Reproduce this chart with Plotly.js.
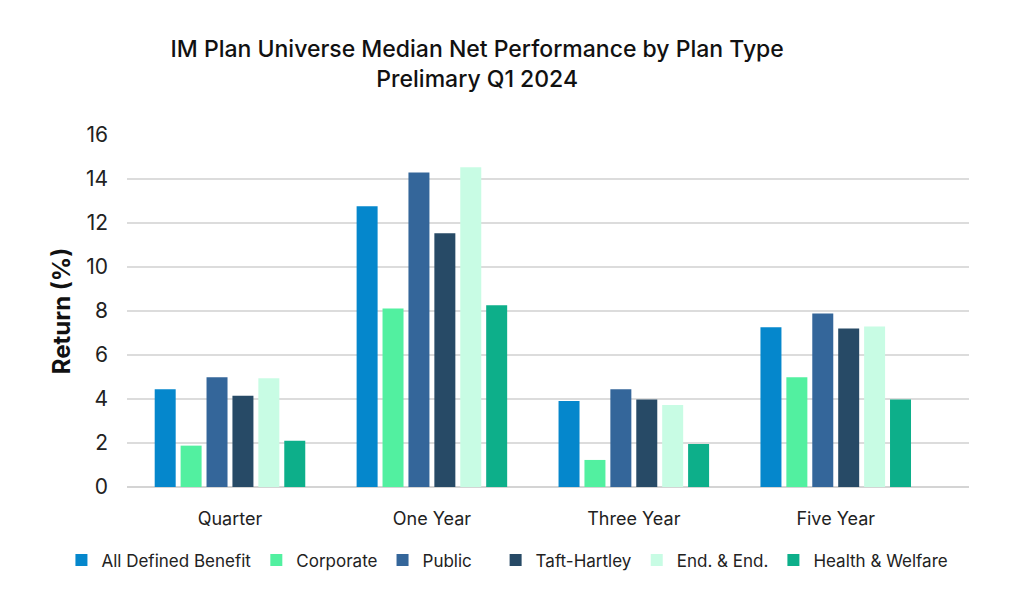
<!DOCTYPE html>
<html>
<head>
<meta charset="utf-8">
<script src="https://cdn.plot.ly/plotly-3.0.1.min.js"></script>
<style>html,body{margin:0;padding:0;background:#fff;}#chart{width:1024px;height:614px;}</style>
</head>
<body>
<div id="chart"></div>
<script>
const categories = ["Quarter", "One Year", "Three Year", "Five Year"];
const seriesNames = ["All Defined Benefit", "Corporate", "Public", "Taft-Hartley", "End. & End.", "Health & Welfare"];
const allDefinedBenefit = [4.44, 12.76, 3.91, 7.26];
const corporate = [1.88, 8.11, 1.23, 4.99];
const publicPlans = [4.99, 14.30, 4.44, 7.89];
const taftHartley = [4.15, 11.53, 3.98, 7.20];
const endEnd = [4.94, 14.53, 3.73, 7.30];
const healthWelfare = [2.10, 8.26, 1.95, 3.98];
const colors = ["#0587CC", "#52F0A0", "#34669A", "#274A66", "#C8FCE4", "#0DAF8A"];

const values = [allDefinedBenefit, corporate, publicPlans, taftHartley, endEnd, healthWelfare];
const font = "Inter, 'Open Sans', sans-serif";

const traces = values.map((v, i) => ({
  type: "bar",
  name: seriesNames[i],
  x: categories,
  y: v,
  marker: {color: colors[i]},
  legend: i < 3 ? "legend" : "legend2",
  hoverinfo: "x+y+name"
}));

const legendStyle = {
  orientation: "h",
  xanchor: "left", xref: "container",
  y: 0.058, yanchor: "bottom", yref: "container",
  font: {family: font, size: 17, color: "#222"},
  itemwidth: 30,
  traceorder: "normal"
};

const layout = {
  width: 1024, height: 614,
  paper_bgcolor: "#fff", plot_bgcolor: "#fff",
  margin: {l: 127, r: 55, t: 135, b: 127},
  font: {family: font, color: "#1a1a1a"},
  title: {
    text: "IM Plan Universe Median Net Performance by Plan Type<br>Prelimary Q1 2024",
    font: {family: font, size: 23, color: "#111", weight: 500},
    x: 0.466, xref: "container", xanchor: "center",
    y: 0.907, yref: "container", yanchor: "top"
  },
  barmode: "group",
  bargap: 0.23,
  bargroupgap: 0.19,
  xaxis: {
    type: "category",
    range: [-0.51, 3.66],
    showgrid: false, zeroline: false,
    showline: false,
    ticks: "",
    tickfont: {family: font, size: 18, color: "#222"},
    ticklabelstandoff: 19
  },
  yaxis: {
    range: [0, 16],
    dtick: 2,
    showgrid: true, gridcolor: "#dcdcdc", gridwidth: 1.5,
    zeroline: true, zerolinecolor: "#d4d4d4", zerolinewidth: 1.5,
    showline: false, ticks: "",
    tickfont: {family: font, size: 21, color: "#222"},
    ticklabelstandoff: 18,
    title: {text: "Return (%)", font: {family: font, size: 24, color: "#111", weight: "bold"}, standoff: 8}
  },
  legend: Object.assign({}, legendStyle, {x: 0.06}),
  legend2: Object.assign({}, legendStyle, {x: 0.484}),
  showlegend: true
};

Plotly.newPlot("chart", traces, layout, {displayModeBar: false, responsive: false});
</script>
</body>
</html>
